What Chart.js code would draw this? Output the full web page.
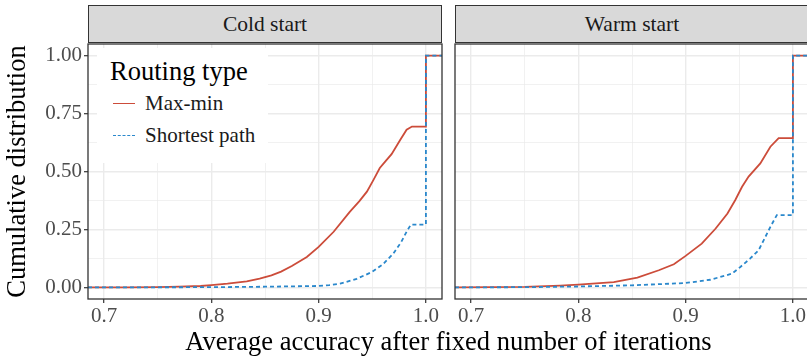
<!DOCTYPE html>
<html>
<head>
<meta charset="utf-8">
<script src="https://cdn.jsdelivr.net/npm/chart.js@4"></script>
<style>
  body { margin: 0; width: 807px; height: 358px; overflow: hidden; background: #fff; position: relative; }
  div { font-family: "Liberation Serif", "DejaVu Serif", serif; }
  canvas { position: absolute; top: 0; }
  .strip { position: absolute; top: 5px; height: 38px; background: #d9d9d9; border: 1.3px solid #333; box-sizing: border-box;
           color: #1a1a1a; font-size: 21.5px; text-align: center; line-height: 37px; }
  .legend { position: absolute; left: 97px; top: 48px; width: 171px; height: 115px; background: #fff; }
  .legend .title { position: absolute; left: 13px; top: 8px; font-size: 26.5px; color: #000; white-space: nowrap; }
  .legend .item { position: absolute; left: 48px; font-size: 21px; color: #1a1a1a; white-space: nowrap; }
  .legend .key { position: absolute; left: 16px; width: 22px; height: 0; }
  .xtitle { position: absolute; left: 0; width: 897px; top: 326px; text-align: center; font-size: 26.5px; color: #000; white-space: nowrap; }
</style>
</head>
<body>
<canvas id="cold" width="445" height="334" style="left:0"></canvas>
<canvas id="warm" width="362" height="334" style="left:450px"></canvas>
<div class="strip" style="left:88px; width:354px">Cold start</div>
<div class="strip" style="left:455px; width:354px">Warm start</div>
<div class="legend">
  <div class="title">Routing type</div>
  <div class="key" style="top:55px; border-top:1.8px solid #cc4c3a"></div>
  <div class="item" style="top:43px">Max-min</div>
  <div class="key" style="top:87px; border-top:1.8px dashed #2a88cc"></div>
  <div class="item" style="top:75px">Shortest path</div>
</div>
<div class="xtitle">Average accuracy after fixed number of iterations</div>
<script>
// facet titles and series names
const panels = ['Cold start', 'Warm start'];
const seriesNames = ['Max-min', 'Shortest path'];

// tick positions
const xMajor = [0.7, 0.8, 0.9, 1.0];
const xMinor = [0.75, 0.85, 0.95];
const yMajor = [0, 0.25, 0.5, 0.75, 1.0];
const yMinor = [0.125, 0.375, 0.625, 0.875];

// Cold start, Max-min
const coldMaxMinX = [0.685, 0.72, 0.75, 0.77, 0.79, 0.80, 0.815, 0.833, 0.845, 0.856, 0.865, 0.875, 0.889, 0.900, 0.914, 0.929, 0.938, 0.945, 0.951, 0.957, 0.963, 0.968, 0.976, 0.982, 0.987, 1.0, 1.0, 1.015];
const coldMaxMinY = [0, 0.0005, 0.001, 0.003, 0.006, 0.010, 0.016, 0.026, 0.038, 0.052, 0.068, 0.092, 0.131, 0.175, 0.24, 0.326, 0.372, 0.413, 0.463, 0.515, 0.548, 0.575, 0.636, 0.680, 0.694, 0.694, 1.0, 1.0];
// Cold start, Shortest path
const coldShortX = [0.685, 0.80, 0.85, 0.898, 0.91, 0.920, 0.9355, 0.9495, 0.960, 0.9696, 0.977, 0.982, 0.986, 1.0, 1.0, 1.015];
const coldShortY = [0, 0.001, 0.003, 0.006, 0.010, 0.016, 0.037, 0.066, 0.10, 0.146, 0.196, 0.24, 0.271, 0.271, 1.0, 1.0];
// Warm start, Max-min
const warmMaxMinX = [0.685, 0.72, 0.75, 0.783, 0.80, 0.833, 0.855, 0.875, 0.889, 0.900, 0.915, 0.928, 0.939, 0.9463, 0.9526, 0.9587, 0.9696, 0.979, 0.9867, 1.0, 1.0, 1.015];
const warmMaxMinY = [0, 0.001, 0.002, 0.008, 0.012, 0.023, 0.042, 0.074, 0.10, 0.136, 0.189, 0.254, 0.319, 0.377, 0.434, 0.478, 0.535, 0.607, 0.644, 0.644, 1.0, 1.0];
// Warm start, Shortest path
const warmShortX = [0.685, 0.75, 0.80, 0.85, 0.90, 0.923, 0.943, 0.951, 0.960, 0.968, 0.9727, 0.979, 0.985, 1.0, 1.0, 1.015];
const warmShortY = [0, 0.001, 0.004, 0.009, 0.019, 0.033, 0.059, 0.088, 0.124, 0.16, 0.203, 0.261, 0.312, 0.312, 1.0, 1.0];

const RED = '#cc4c3a';
const BLUE = '#2a88cc';
const SERIF = '"Liberation Serif", "DejaVu Serif", serif';
const tickFont = { family: SERIF, size: 21 };

function pts(xs, ys) {
    return xs.map((x, i) => ({ x: x, y: ys[i] }));
}

const isMajor = (v, list) => list.some(m => Math.abs(m - v) < 1e-9);

// frame around the panel, drawn over the data like ggplot
const panelBorder = {
    id: 'panelBorder',
    afterDraw(chart) {
        const a = chart.chartArea;
        const c = chart.ctx;
        c.save();
        c.strokeStyle = '#333';
        c.lineWidth = 1.3;
        c.strokeRect(a.left, a.top, a.right - a.left, a.bottom - a.top);
        c.restore();
    }
};

function makeChart(id, maxMin, shortest, showY) {
    const ctx = document.getElementById(id).getContext('2d');
    return new Chart(ctx, {
        type: 'scatter',
        data: {
            datasets: [{
                label: seriesNames[0],
                data: maxMin,
                showLine: true,
                borderColor: RED,
                borderWidth: 1.8,
                pointRadius: 0,
                order: 2
            }, {
                label: seriesNames[1],
                data: shortest,
                showLine: true,
                borderColor: BLUE,
                borderWidth: 1.8,
                borderDash: [4, 3],
                pointRadius: 0,
                order: 1
            }]
        },
        options: {
            responsive: false,
            animation: false,
            devicePixelRatio: 1,
            layout: { padding: { top: 44, left: showY ? 0 : 5, right: 3, bottom: 0 } },
            plugins: { legend: { display: false }, tooltip: { enabled: false } },
            scales: {
                x: {
                    type: 'linear',
                    min: 0.685,
                    max: 1.015,
                    afterBuildTicks: s => { s.ticks = xMajor.concat(xMinor).sort().map(v => ({ value: v })); },
                    afterFit: s => { s.height = 35; s.paddingLeft = 0; s.paddingRight = 0; },
                    border: { display: false },
                    grid: {
                        color: '#ebebeb',
                        lineWidth: c => isMajor(c.tick.value, xMajor) ? 1.4 : 0.7,
                        tickLength: 4,
                        tickColor: c => isMajor(c.tick.value, xMajor) ? '#333' : 'rgba(0,0,0,0)',
                        tickWidth: 1.2
                    },
                    ticks: {
                        autoSkip: false,
                        maxRotation: 0,
                        padding: 1,
                        color: '#4d4d4d',
                        font: tickFont,
                        callback: v => isMajor(v, xMajor) ? v.toFixed(1) : ''
                    }
                },
                y: {
                    min: -0.05,
                    max: 1.05,
                    afterBuildTicks: s => { s.ticks = yMajor.concat(yMinor).sort().map(v => ({ value: v })); },
                    afterFit: s => { s.width = showY ? 88 : 0; s.paddingTop = 0; s.paddingBottom = 0; },
                    border: { display: false },
                    grid: {
                        color: '#ebebeb',
                        lineWidth: c => isMajor(c.tick.value, yMajor) ? 1.4 : 0.7,
                        drawTicks: showY,
                        tickLength: 4,
                        tickColor: c => isMajor(c.tick.value, yMajor) ? '#333' : 'rgba(0,0,0,0)',
                        tickWidth: 1.2
                    },
                    ticks: {
                        display: showY,
                        autoSkip: false,
                        padding: 2,
                        color: '#4d4d4d',
                        font: tickFont,
                        callback: v => isMajor(v, yMajor) ? v.toFixed(2) : ''
                    },
                    title: {
                        display: showY,
                        text: 'Cumulative distribution',
                        color: '#000',
                        font: { family: SERIF, size: 26.5 },
                        padding: { top: 2, bottom: 0 }
                    }
                }
            }
        },
        plugins: [panelBorder]
    });
}

makeChart('cold', pts(coldMaxMinX, coldMaxMinY), pts(coldShortX, coldShortY), true);
makeChart('warm', pts(warmMaxMinX, warmMaxMinY), pts(warmShortX, warmShortY), false);
</script>
</body>
</html>
